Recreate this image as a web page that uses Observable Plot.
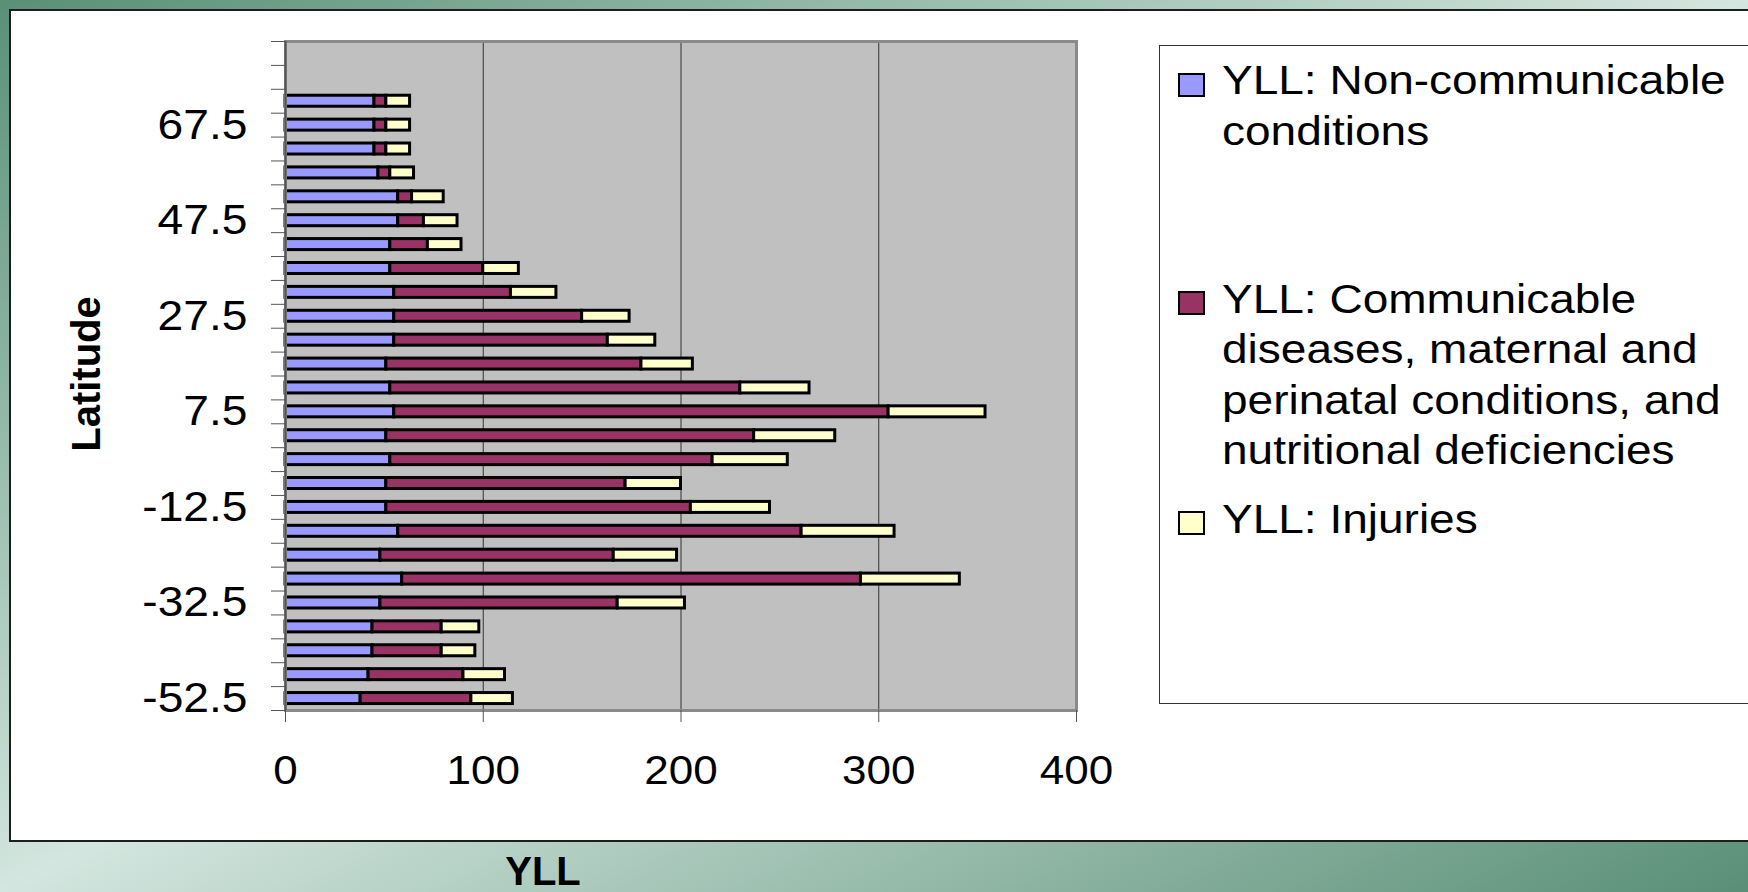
<!DOCTYPE html>
<html>
<head>
<meta charset="utf-8">
<script src="https://cdn.jsdelivr.net/npm/d3@7"></script>
<script src="https://cdn.jsdelivr.net/npm/@observablehq/plot@0.6"></script>
<style>
  html, body { margin: 0; padding: 0; }
  body {
    width: 1748px; height: 892px; overflow: hidden; position: relative;
    background: linear-gradient(to bottom right, #5a8f77 0%, #d3e6df 50%, #5a8f77 100%);
    font-family: "Liberation Sans", Arial, sans-serif;
  }
  #panel {
    position: absolute; left: 9px; top: 9px; width: 1800px; height: 829px;
    background: #fff; border: 2px solid #1e1e1e; box-sizing: content-box;
  }
  #chart { position: absolute; left: 0; top: 0; }
  #legend {
    position: absolute; left: 1159px; top: 45px; width: 700px; height: 657px;
    border: 1.5px solid #333; background: #fff;
  }
  .sw { position: absolute; width: 23px; height: 20px; border: 2px solid #000; }
  .lt {
    position: absolute; font-size: 40px; line-height: 50.5px; white-space: pre;
    color: #000; transform: scaleX(1.15); transform-origin: 0 0;
  }
  .axt { position: absolute; font-weight: bold; font-size: 40px; line-height: 40px; color: #000; white-space: pre; }
</style>
</head>
<body>
<div id="panel"></div>
<div id="chart"></div>
<div id="legend"></div>
<div class="axt" id="ytitle"></div>
<div class="axt" id="xtitle"></div>
<script>
// ---- data (top bar = 72.5° down to -52.5°) ----
const latitudes = [72.5, 67.5, 62.5, 57.5, 52.5, 47.5, 42.5, 37.5, 32.5, 27.5, 22.5, 17.5, 12.5,
  7.5, 2.5, -2.5, -7.5, -12.5, -17.5, -22.5, -27.5, -32.5, -37.5, -42.5, -47.5, -52.5];
const nonCommunicable = [45, 45, 45, 47, 57, 57, 53, 53, 55, 55, 55, 51, 53,
  55, 51, 53, 51, 51, 57, 48, 59, 48, 44, 44, 42, 38];
const communicable = [6, 6, 6, 6, 7, 13, 19, 47, 59, 95, 108, 129, 177,
  250, 186, 163, 121, 154, 204, 118, 232, 120, 35, 35, 48, 56];
const injuries = [12, 12, 12, 12, 16, 17, 17, 18, 23, 24, 24, 26, 35,
  49, 41, 38, 28, 40, 47, 32, 50, 34, 19, 17, 21, 21];

const seriesNames = [
  "YLL: Non-communicable conditions",
  "YLL: Communicable diseases, maternal and perinatal conditions, and nutritional deficiencies",
  "YLL: Injuries"
];
const legendLines = [
  "YLL: Non-communicable\nconditions",
  "YLL: Communicable\ndiseases, maternal and\nperinatal conditions, and\nnutritional deficiencies",
  "YLL: Injuries"
];
const seriesColors = ["#9999ff", "#993366", "#ffffcc"];

const xTicks = [0, 100, 200, 300, 400];
const xGrid = [100, 200, 300];
const yDomain = [-55, 85];
const yBoundaries = d3.range(-55, 86, 5);
const yLabelTicks = [67.5, 47.5, 27.5, 7.5, -12.5, -32.5, -52.5];
const xTitle = "YLL";
const yTitle = "Latitude";

// ---- stacked rows ----
const seriesValues = [nonCommunicable, communicable, injuries];
const rows = [];
latitudes.forEach((lat, i) => {
  let acc = 0;
  seriesValues.forEach((vals, s) => {
    rows.push({lat, series: seriesNames[s], x1: acc, x2: acc + vals[i]});
    acc += vals[i];
  });
});

const W = 1100, H = 892;
const step = 5;
const slotPx = (710 - 41) / ((yDomain[1] - yDomain[0]) / step);
const inset = (slotPx - 11) / 2;

const plot = Plot.plot({
  width: W, height: H,
  marginLeft: 285, marginRight: W - 1076, marginTop: 41, marginBottom: H - 710,
  style: {background: "transparent", fontFamily: "'Liberation Sans', Arial, sans-serif", overflow: "visible", color: "#000"},
  x: {domain: [0, 400], axis: null},
  y: {domain: yDomain, axis: null},
  color: {domain: seriesNames, range: seriesColors},
  marks: [
    Plot.frame({fill: "#c0c0c0"}),
    Plot.ruleX(xGrid, {stroke: "#333", strokeWidth: 1}),
    Plot.rect(rows, {
      x1: "x1", x2: "x2",
      y1: d => d.lat - step / 2, y2: d => d.lat + step / 2,
      insetTop: inset, insetBottom: inset,
      fill: "series", stroke: "#000", strokeWidth: 3
    }),
    Plot.frame({stroke: "#8a8a8a", strokeWidth: 3}),
    Plot.ruleX([0], {stroke: "#555", strokeWidth: 2}),
    Plot.axisX({ticks: xTicks, tickSize: 12, tickPadding: 33, fontSize: 40, stroke: "#555",
      fill: "#000", tickFormat: d => String(d), label: null}),
    Plot.axisY({ticks: yBoundaries, tickSize: 14, stroke: "#555", tickFormat: () => "", label: null}),
    Plot.axisY({ticks: yLabelTicks, tickSize: 0, tickPadding: 38, fontSize: 42, fill: "#000",
      tickFormat: d => String(d), label: null})
  ]
});

// horizontal stretch of tick labels (as in the reference), around each label's anchor
plot.querySelectorAll('g[aria-label$="tick label"] text').forEach(t => {
  const tr = t.getAttribute("transform");
  if (tr) t.setAttribute("transform", `${tr} scale(1.1,1)`);
});
document.getElementById("chart").appendChild(plot);

// ---- legend ----
const legend = document.getElementById("legend");
const legendLeft = 1159, legendTop = 45;
const swatchTops = [72, 290, 510];
const textBaselines = [93.5, 312, 532];
seriesNames.forEach((name, i) => {
  const sw = document.createElement("div");
  sw.className = "sw";
  sw.style.left = (1177 - legendLeft) + "px";
  sw.style.top = (swatchTops[i] - legendTop) + "px";
  sw.style.background = seriesColors[i];
  legend.appendChild(sw);
  const tx = document.createElement("div");
  tx.className = "lt";
  tx.textContent = legendLines[i];
  tx.style.left = (1221 - legendLeft) + "px";
  tx.style.top = (textBaselines[i] - 39.1 - legendTop) + "px";
  legend.appendChild(tx);
});

// ---- axis titles ----
const yt = document.getElementById("ytitle");
yt.textContent = yTitle;
yt.style.left = "86px"; yt.style.top = "374px";
yt.style.transform = "translate(-50%, -50%) rotate(-90deg)";
const xt = document.getElementById("xtitle");
xt.textContent = xTitle;
xt.style.left = "543px"; xt.style.top = "851px";
xt.style.transform = "translateX(-50%)";
</script>
</body>
</html>
